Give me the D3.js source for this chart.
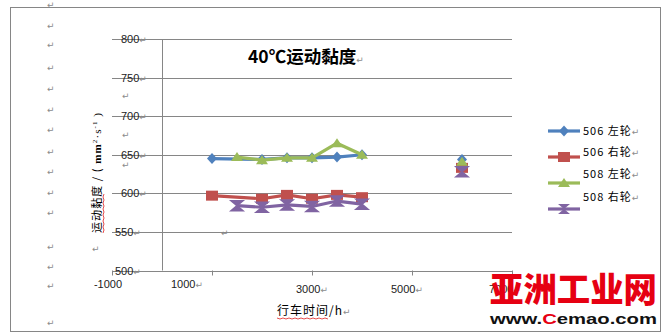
<!doctype html>
<html>
<head>
<meta charset="utf-8">
<script src="https://d3js.org/d3.v7.min.js"></script>
<style>
body { margin: 0; background: #fff; }
text { font-family: "Liberation Sans", Arial, sans-serif; }
.cjk { font-family: "Noto Sans CJK SC", sans-serif; }
.mark { font-family: "DejaVu Sans", sans-serif; fill: #8c8c8c; font-size: 9px; }
</style>
</head>
<body>
<script>
// running hours and readings (mm2/s at 40 C)
var hours506 = [1000, 2000, 2500, 3000, 3500, 4000];
var hours508 = [1500, 2000, 2500, 3000, 3500, 4000];
var left506 = [645, 644, 646, 646, 647, 650];
var right506 = [597, 593, 598, 593, 598, 595];
var left508 = [647, 643, 646, 646, 665, 650];
var right508 = [584, 582, 585, 583, 590, 586];
// lone readings at 6000 h, same order as seriesNames
var lateHour = 6000;
var lateValues = [644, 633, 641, 628];

var seriesNames = ["506 左轮", "506 右轮", "508 左轮", "508 右轮"];
var seriesColors = ["#4f81bd", "#c0504d", "#9bbb59", "#8064a2"];
var xTicks = [-1000, 1000, 3000, 5000, 7000];
var yTicks = [500, 550, 600, 650, 700, 750, 800];

var width = 670, height = 335;

var svg = d3.select("body").append("svg")
    .attr("width", width)
    .attr("height", height);

var x = d3.scaleLinear().domain([-1000, 7000]).range([112, 512]);
var y = d3.scaleLinear().domain([500, 800]).range([270.5, 39]);

// outer frame
svg.append("rect")
    .attr("x", 10.5).attr("y", 7.5)
    .attr("width", 650).attr("height", 324)
    .attr("fill", "none").attr("stroke", "#868686");

// stray paragraph marks from the document
var leftMarks = [5, 26, 45, 68, 89, 110, 130, 152, 172, 193, 213, 247, 267, 286, 323];
svg.selectAll(".lm").data(leftMarks).enter().append("text")
    .attr("class", "mark")
    .attr("x", 47).attr("y", function (d) { return d + 3; })
    .text("↵");
var innerMarks = [[122, 96], [122, 135], [122, 165], [221, 233], [92, 249]];
svg.selectAll(".im").data(innerMarks).enter().append("text")
    .attr("class", "mark")
    .attr("x", function (d) { return d[0]; })
    .attr("y", function (d) { return d[1] + 3; })
    .text("↵");

// gridlines
svg.selectAll(".grid").data(yTicks).enter().append("line")
    .attr("x1", x(-1000)).attr("x2", x(7000))
    .attr("y1", function (d) { return Math.round(y(d)) + 0.5; })
    .attr("y2", function (d) { return Math.round(y(d)) + 0.5; })
    .attr("stroke", "#868686");

// vertical axis at x = 0
svg.append("line")
    .attr("x1", Math.round(x(0)) + 0.5).attr("x2", Math.round(x(0)) + 0.5)
    .attr("y1", y(800)).attr("y2", y(500))
    .attr("stroke", "#868686");

// x ticks
svg.selectAll(".xt").data(xTicks).enter().append("line")
    .attr("x1", function (d) { return Math.round(x(d)) + 0.5; })
    .attr("x2", function (d) { return Math.round(x(d)) + 0.5; })
    .attr("y1", y(500)).attr("y2", y(500) + 5)
    .attr("stroke", "#868686");

// y tick labels, sitting on the gridlines like in the document
var yLab = svg.selectAll(".yl").data(yTicks).enter().append("text")
    .attr("x", function (d) { return d < 600 ? 115 : 121; })
    .attr("y", function (d) { return y(d) + 4; })
    .attr("font-size", 11)
    .attr("fill", "#222");
yLab.append("tspan").text(function (d) { return d; });
yLab.append("tspan").attr("class", "mark").text("↵");

// x tick labels
var xLabelShift = [[-4, 284], [-25, 284], [0, 289], [-5, 289], [-7, 289]];
var xLab = svg.selectAll(".xl").data(xTicks).enter().append("text")
    .attr("x", function (d, i) { return x(d) + xLabelShift[i][0]; })
    .attr("y", function (d, i) { return xLabelShift[i][1] + 4; })
    .attr("text-anchor", "middle")
    .attr("font-size", 11)
    .attr("fill", "#222");
xLab.append("tspan").text(function (d) { return d; });
xLab.filter(function (d) { return d > 0; }).append("tspan").attr("class", "mark").text("↵");

// title
var title = svg.append("text")
    .attr("class", "cjk")
    .attr("x", 248).attr("y", 63)
    .attr("font-size", 17.5).attr("font-weight", "bold");
title.append("tspan").text("40℃运动黏度");
title.append("tspan").attr("class", "mark").attr("font-weight", "normal").text("↵");

// axis titles
var xt = svg.append("text")
    .attr("class", "cjk")
    .attr("x", 277).attr("y", 315)
    .attr("font-size", 12).attr("letter-spacing", 1);
xt.append("tspan").text("行车时间/h");
xt.append("tspan").attr("class", "mark").text("↵");
svg.append("path")
    .attr("d", d3.range(277, 329, 3).map(function (v, i) { return (i ? "L" : "M") + v + "," + (318 + (i % 2)); }).join(""))
    .attr("fill", "none").attr("stroke", "#e02020").attr("stroke-width", 0.8);

var yt = svg.append("g").attr("transform", "translate(101,233) rotate(-90)");
var ytText = yt.append("text").attr("font-size", 11)
    .attr("textLength", 120).attr("lengthAdjust", "spacing");
ytText.append("tspan").attr("class", "cjk").text("运动黏度 / (");
ytText.append("tspan").attr("font-family", "Liberation Serif").attr("font-weight", "bold").text(" mm");
ytText.append("tspan").attr("font-family", "Liberation Serif").attr("font-size", 7).attr("dy", -4).text("2");
ytText.append("tspan").attr("font-family", "Liberation Serif").attr("dy", 4).text("·s");
ytText.append("tspan").attr("font-family", "Liberation Serif").attr("font-size", 7).attr("dy", -4).text("-1");
ytText.append("tspan").attr("font-family", "Liberation Serif").attr("dy", 4).text(" )");
yt.append("path")
    .attr("d", d3.range(0, 42, 3).map(function (v, i) { return (i ? "L" : "M") + v + "," + (2 + (i % 2)); }).join(""))
    .attr("fill", "none").attr("stroke", "#e02020").attr("stroke-width", 0.8);

// marker shapes
var shapes = [
    "M0,-5.5L5,0L0,5.5L-5,0Z",
    "M-6,-5H6V5H-6Z",
    "M0,-5L6,4H-6Z",
    "M-6,-5H6L-6,5H6Z"
];

var series = [
    { xs: hours506, ys: left506 },
    { xs: hours506, ys: right506 },
    { xs: hours508, ys: left508 },
    { xs: hours508, ys: right508 }
];

var line = d3.line()
    .x(function (d) { return x(d[0]); })
    .y(function (d) { return y(d[1]); });

series.forEach(function (s, i) {
    var pts = s.xs.map(function (h, j) { return [h, s.ys[j]]; });
    var g = svg.append("g");
    g.append("path")
        .attr("d", line(pts))
        .attr("fill", "none")
        .attr("stroke", seriesColors[i])
        .attr("stroke-width", 3.2)
        .attr("stroke-linejoin", "round");
    g.selectAll("path.m").data(pts.concat([[lateHour, lateValues[i]]])).enter().append("path")
        .attr("class", "m")
        .attr("d", shapes[i])
        .attr("transform", function (d) { return "translate(" + x(d[0]) + "," + y(d[1]) + ")"; })
        .attr("fill", seriesColors[i])
        .attr("stroke", i === 3 ? seriesColors[i] : "none")
        .attr("stroke-width", 1.5);
});

// legend
var legLineY = [131, 157, 183, 209];
var legTextY = [131, 152, 174, 197];
var leg = svg.selectAll(".lg").data(seriesNames).enter().append("g");
leg.append("line")
    .attr("x1", 548).attr("x2", 580)
    .attr("y1", function (d, i) { return legLineY[i]; })
    .attr("y2", function (d, i) { return legLineY[i]; })
    .attr("stroke", function (d, i) { return seriesColors[i]; })
    .attr("stroke-width", 3.2);
leg.append("path")
    .attr("d", function (d, i) { return shapes[i]; })
    .attr("transform", function (d, i) { return "translate(564," + legLineY[i] + ")"; })
    .attr("fill", function (d, i) { return seriesColors[i]; });
var lt = leg.append("text")
    .attr("x", 583)
    .attr("y", function (d, i) { return legTextY[i] + 4; })
    .attr("font-size", 11)
    .attr("class", "cjk")
    .attr("letter-spacing", 1);
lt.append("tspan").text(function (d) { return d; });
lt.append("tspan").attr("class", "mark").text("↵");

// site watermark in the corner
svg.append("text")
    .attr("class", "cjk")
    .attr("x", 490).attr("y", 302)
    .attr("font-size", 34).attr("font-weight", 900)
    .attr("fill", "#e60012")
    .attr("textLength", 167).attr("lengthAdjust", "spacingAndGlyphs")
    .text("亚洲工业网");
var wm = svg.append("text")
    .attr("x", 490).attr("y", 324)
    .attr("font-size", 14).attr("font-weight", "bold")
    .attr("fill", "#111")
    .attr("textLength", 167).attr("lengthAdjust", "spacingAndGlyphs");
wm.append("tspan").text("www.");
wm.append("tspan").attr("fill", "#e60012").text("C");
wm.append("tspan").text("emao.com");
</script>
</body>
</html>
